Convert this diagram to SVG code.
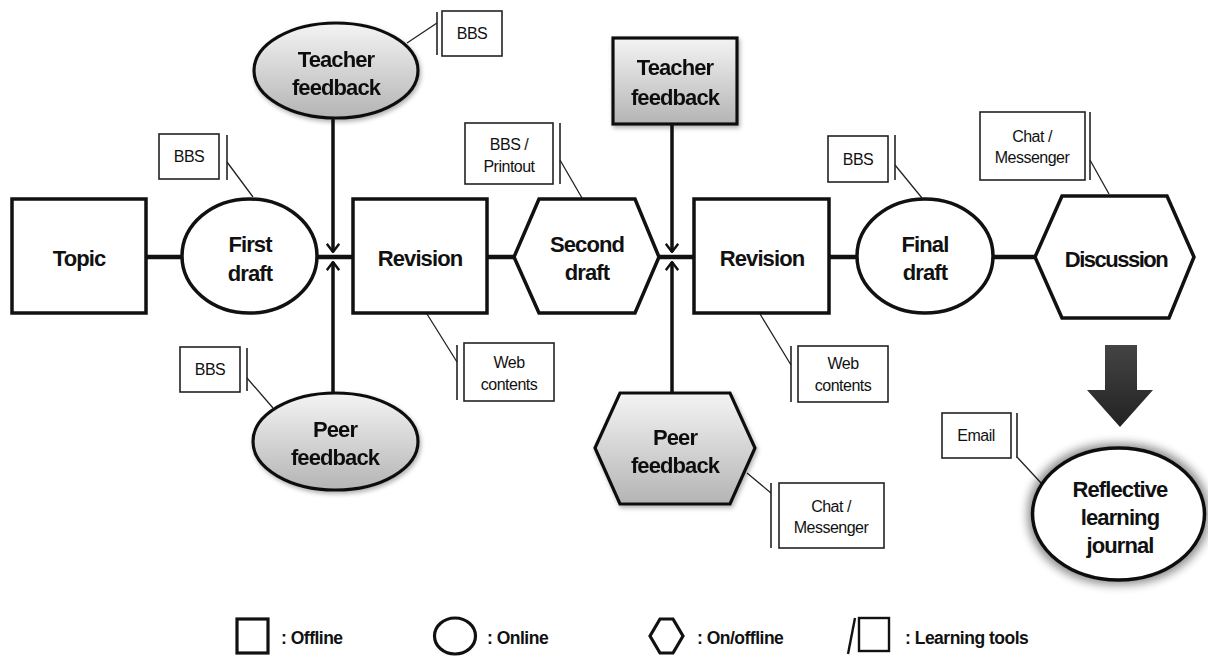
<svg xmlns="http://www.w3.org/2000/svg" width="1208" height="657" viewBox="0 0 1208 657">
<style>
.node{fill:#fff;stroke:#111;stroke-width:3.5}
.gray{stroke:#111;stroke-width:3.2}
.lbl{font-family:"Liberation Sans",Arial,sans-serif;font-weight:bold;font-size:22px;letter-spacing:-0.9px;fill:#111;text-anchor:middle}
.tool{fill:#fff;stroke:#222;stroke-width:1.6}
.tt{font-family:"Liberation Sans",Arial,sans-serif;font-size:16px;letter-spacing:-0.5px;fill:#111;text-anchor:middle}
.tick{stroke:#222;stroke-width:1.6;fill:none}
.lead{stroke:#222;stroke-width:1.3;fill:none}
.main{stroke:#111;stroke-width:4.5;fill:none}
.vert{stroke:#111;stroke-width:3.5;fill:none}
.leg{fill:none;stroke:#111;stroke-width:3.2}
.legt{font-family:"Liberation Sans",Arial,sans-serif;font-weight:bold;font-size:17.5px;letter-spacing:-0.5px;fill:#111}
</style>
<defs>
<linearGradient id="gr" x1="0" y1="0" x2="0" y2="1">
<stop offset="0" stop-color="#f4f4f4"/>
<stop offset="1" stop-color="#b4b4b4"/>
</linearGradient>
<linearGradient id="ar" x1="0" y1="0" x2="0" y2="1">
<stop offset="0" stop-color="#444"/>
<stop offset="1" stop-color="#222"/>
</linearGradient>
<filter id="sh" x="-20%" y="-20%" width="140%" height="150%">
<feDropShadow dx="1.5" dy="2.5" stdDeviation="2" flood-color="#000" flood-opacity="0.3"/>
</filter>
<filter id="glow" x="-25%" y="-25%" width="150%" height="150%">
<feMorphology in="SourceAlpha" operator="dilate" radius="3" result="d"/>
<feGaussianBlur in="d" stdDeviation="5" result="b"/>
<feComponentTransfer in="b" result="c"><feFuncA type="linear" slope="0.45"/></feComponentTransfer>
<feMerge><feMergeNode in="c"/><feMergeNode in="SourceGraphic"/></feMerge>
</filter>
<marker id="open" viewBox="0 0 10 14" refX="9" refY="7" markerWidth="10" markerHeight="14" markerUnits="userSpaceOnUse" orient="auto">
<path d="M0.8,0.8 L9,7 L0.8,13.2" fill="none" stroke="#111" stroke-width="2.4"/>
</marker>
</defs>
<rect width="1208" height="657" fill="#fff"/>

<g id="connectors">
<path class="main" d="M146,257 H182 M317,257 H353 M487,257 H514 M659,257 H694 M829,257 H857 M993,257 H1035"/>
<path class="vert" d="M333,118 V252" marker-end="url(#open)"/>
<path class="vert" d="M333,393 V262" marker-end="url(#open)"/>
<path class="vert" d="M672,124 V252" marker-end="url(#open)"/>
<path class="vert" d="M672,393 V262" marker-end="url(#open)"/>
<path class="lead" d="M437,23 L407,43 M227,162 L253,197 M560,160 L582,198 M895,165 L922,198 M1090,160 L1109,194 M247,378 L273,408 M457,362 L427,314 M791,365 L760,314 M771,493 L747,473 M1017,457 L1042,484"/>
<polygon points="1105,345 1137,345 1137,390 1153,390 1120,427 1087,390 1105,390" fill="url(#ar)"/>
</g>

<g id="topic">
<rect class="node" x="12" y="199" width="134" height="114"/>
<text class="lbl" x="79" y="266">Topic</text>
</g>
<g id="first-draft">
<ellipse class="node" cx="249.5" cy="256" rx="67.5" ry="57"/>
<text class="lbl" x="250" y="252">First</text>
<text class="lbl" x="250" y="281">draft</text>
</g>
<g id="teacher-feedback-1" filter="url(#sh)">
<ellipse class="gray" fill="url(#gr)" cx="336" cy="70.5" rx="82" ry="47.5"/>
<text class="lbl" x="336" y="67">Teacher</text>
<text class="lbl" x="336" y="95">feedback</text>
</g>
<g id="peer-feedback-1" filter="url(#sh)">
<ellipse class="gray" fill="url(#gr)" cx="335.5" cy="441.5" rx="82.5" ry="48.5"/>
<text class="lbl" x="335" y="437">Peer</text>
<text class="lbl" x="335" y="465">feedback</text>
</g>
<g id="revision-1">
<rect class="node" x="353" y="199" width="134" height="114"/>
<text class="lbl" x="420" y="266">Revision</text>
</g>
<g id="second-draft">
<polygon class="node" points="514,257 539,199 635,199 659,257 635,313 539,313"/>
<text class="lbl" x="587" y="252">Second</text>
<text class="lbl" x="587" y="280">draft</text>
</g>
<g id="teacher-feedback-2" filter="url(#sh)">
<rect class="gray" fill="url(#gr)" x="613" y="38" width="124" height="86"/>
<text class="lbl" x="675" y="75">Teacher</text>
<text class="lbl" x="675" y="105">feedback</text>
</g>
<g id="peer-feedback-2" filter="url(#sh)">
<polygon class="gray" fill="url(#gr)" points="595,448 620,393 730,393 755,448 730,504 620,504"/>
<text class="lbl" x="675" y="445">Peer</text>
<text class="lbl" x="675" y="473">feedback</text>
</g>
<g id="revision-2">
<rect class="node" x="694" y="199" width="135" height="114"/>
<text class="lbl" x="762" y="266">Revision</text>
</g>
<g id="final-draft">
<ellipse class="node" cx="925" cy="256" rx="68" ry="57"/>
<text class="lbl" x="925" y="252">Final</text>
<text class="lbl" x="925" y="280">draft</text>
</g>
<g id="discussion">
<polygon class="node" points="1035,257 1062,196 1167,196 1194,257 1169,318 1062,318"/>
<text class="lbl" x="1116" y="267" style="letter-spacing:-1.5px">Discussion</text>
</g>
<g id="reflective-journal">
<ellipse class="node" filter="url(#glow)" cx="1118.5" cy="514" rx="86" ry="66"/>
<text class="lbl" x="1120" y="497">Reflective</text>
<text class="lbl" x="1120" y="525">learning</text>
<text class="lbl" x="1120" y="553">journal</text>
</g>

<g id="tool-bbs-teacher1">
<path class="tick" d="M437,12 V55"/>
<rect class="tool" x="442" y="11" width="60" height="45"/>
<text class="tt" x="472" y="39">BBS</text>
</g>
<g id="tool-bbs-first">
<path class="tick" d="M227,135 V180"/>
<rect class="tool" x="159" y="134" width="60" height="45"/>
<text class="tt" x="189" y="162">BBS</text>
</g>
<g id="tool-bbs-peer1">
<path class="tick" d="M247,348 V391"/>
<rect class="tool" x="180" y="347" width="60" height="45"/>
<text class="tt" x="210" y="375">BBS</text>
</g>
<g id="tool-web-1">
<path class="tick" d="M457,345 V400"/>
<rect class="tool" x="464" y="343" width="90" height="58"/>
<text class="tt" x="509" y="368">Web</text>
<text class="tt" x="509" y="390">contents</text>
</g>
<g id="tool-bbs-printout">
<path class="tick" d="M560,123 V184"/>
<rect class="tool" x="465" y="123" width="88" height="61"/>
<text class="tt" x="509" y="150">BBS /</text>
<text class="tt" x="509" y="172">Printout</text>
</g>
<g id="tool-web-2">
<path class="tick" d="M791,346 V402"/>
<rect class="tool" x="798" y="346" width="90" height="56"/>
<text class="tt" x="843" y="369">Web</text>
<text class="tt" x="843" y="391">contents</text>
</g>
<g id="tool-chat-peer2">
<path class="tick" d="M771,483 V548"/>
<rect class="tool" x="779" y="483" width="105" height="65"/>
<text class="tt" x="831" y="512">Chat /</text>
<text class="tt" x="831" y="533">Messenger</text>
</g>
<g id="tool-bbs-final">
<path class="tick" d="M895,135 V180"/>
<rect class="tool" x="828" y="136" width="60" height="46"/>
<text class="tt" x="858" y="165">BBS</text>
</g>
<g id="tool-chat-discussion">
<path class="tick" d="M1090,112 V180"/>
<rect class="tool" x="980" y="112" width="105" height="68"/>
<text class="tt" x="1032" y="142">Chat /</text>
<text class="tt" x="1032" y="163">Messenger</text>
</g>
<g id="tool-email">
<path class="tick" d="M1017,413 V458"/>
<rect class="tool" x="942" y="413" width="69" height="45"/>
<text class="tt" x="976" y="441">Email</text>
</g>

<g id="legend">
<rect class="leg" x="237" y="619" width="31" height="34"/>
<text class="legt" x="281" y="644">: Offline</text>
<ellipse class="leg" cx="455" cy="636" rx="20.5" ry="18"/>
<text class="legt" x="487" y="644">: Online</text>
<polygon class="leg" points="650,636 660,619 673,619 683,636 673,653 660,653"/>
<text class="legt" x="697" y="644">: On/offline</text>
<path d="M848,654 L855,618" stroke="#111" stroke-width="2.4" fill="none"/>
<rect x="859" y="618" width="30" height="33" fill="none" stroke="#111" stroke-width="2.4"/>
<text class="legt" x="905" y="644">: Learning tools</text>
</g>
</svg>
